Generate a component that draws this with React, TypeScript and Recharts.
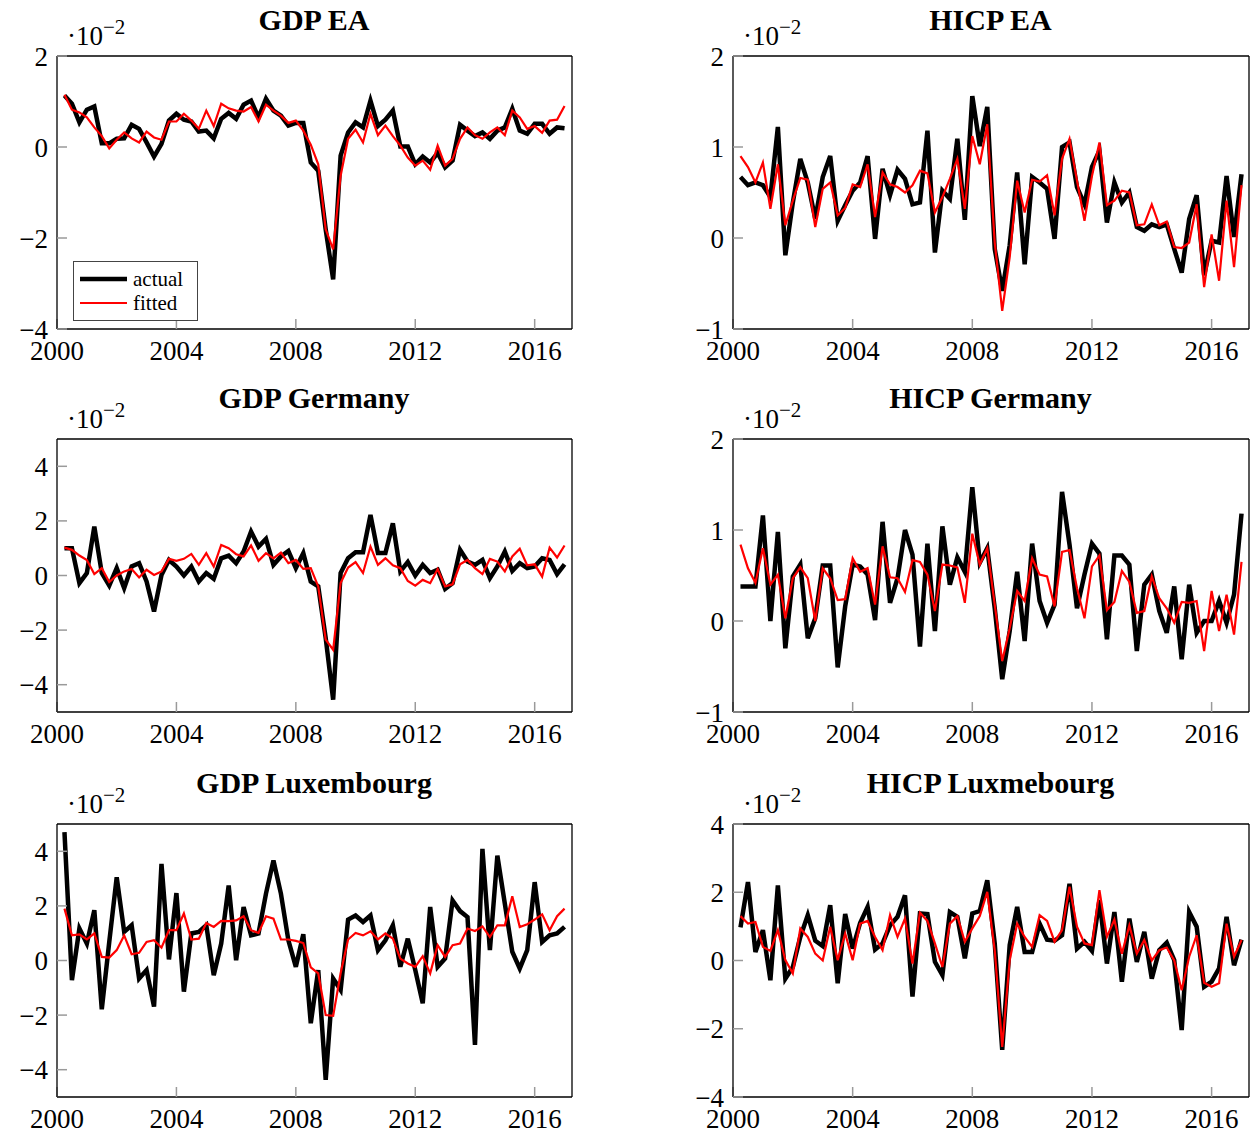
import { LineChart, Line, XAxis, YAxis, Legend } from 'recharts'

const FONT = '"Liberation Serif", "DejaVu Serif", serif'

const YEAR_TICKS = [2000, 2004, 2008, 2012, 2016]

// values in units of 10^-2
const GDP_EA_ACTUAL = [
  1.13, 0.95, 0.54, 0.82, 0.89, 0.08, 0.08, 0.18, 0.19, 0.49, 0.40, 0.10, -0.21, 0.07, 0.58, 0.73, 0.60,
  0.56, 0.34, 0.36, 0.19, 0.62, 0.75, 0.62, 0.93, 1.02, 0.65, 1.06, 0.80, 0.69, 0.47, 0.53, 0.53, -0.34,
  -0.52, -1.81, -2.91, -0.19, 0.32, 0.54, 0.43, 1.02, 0.46, 0.60, 0.80, 0.01, 0.01, -0.38, -0.21, -0.34,
  -0.13, -0.45, -0.30, 0.49, 0.36, 0.24, 0.32, 0.18, 0.36, 0.43, 0.84, 0.36, 0.29, 0.51, 0.51, 0.29, 0.43, 0.41,
]
const GDP_EA_FITTED = [
  1.15, 0.82, 0.76, 0.65, 0.43, 0.24, -0.03, 0.16, 0.32, 0.19, 0.10, 0.34, 0.21, 0.16, 0.56, 0.56, 0.73,
  0.58, 0.40, 0.80, 0.46, 0.95, 0.85, 0.80, 0.78, 0.88, 0.56, 0.93, 0.80, 0.69, 0.53, 0.58, 0.36, 0.05,
  -0.38, -1.81, -2.25, -0.63, 0.18, 0.38, 0.10, 0.73, 0.26, 0.47, 0.24, 0.03, -0.23, -0.41, -0.30, -0.50,
  0.03, -0.41, -0.26, 0.18, 0.43, 0.26, 0.18, 0.32, 0.43, 0.26, 0.80, 0.65, 0.40, 0.46, 0.31, 0.58, 0.60, 0.90,
]
const HICP_EA_ACTUAL = [
  0.67, 0.58, 0.61, 0.58, 0.45, 1.22, -0.19, 0.39, 0.87, 0.61, 0.21, 0.67, 0.90, 0.19, 0.36, 0.52, 0.61,
  0.90, -0.01, 0.76, 0.47, 0.75, 0.65, 0.37, 0.39, 1.18, -0.16, 0.52, 0.43, 1.09, 0.20, 1.56, 1.01, 1.44,
  -0.12, -0.58, -0.08, 0.72, -0.29, 0.67, 0.61, 0.54, -0.01, 1.00, 1.05, 0.56, 0.37, 0.78, 0.96, 0.17,
  0.61, 0.39, 0.50, 0.12, 0.08, 0.15, 0.12, 0.15, -0.12, -0.38, 0.21, 0.47, -0.41, -0.03, -0.05, 0.68, 0.01, 0.70,
]
const HICP_EA_FITTED = [
  0.90, 0.78, 0.61, 0.83, 0.32, 0.81, 0.14, 0.41, 0.66, 0.64, 0.12, 0.54, 0.61, 0.25, 0.33, 0.59, 0.56,
  0.81, 0.23, 0.72, 0.59, 0.56, 0.50, 0.58, 0.74, 0.71, 0.28, 0.45, 0.65, 0.87, 0.32, 1.12, 0.81, 1.25,
  -0.05, -0.80, -0.21, 0.63, 0.28, 0.64, 0.62, 0.69, 0.25, 0.87, 1.09, 0.63, 0.19, 0.68, 1.05, 0.36,
  0.41, 0.52, 0.50, 0.14, 0.15, 0.37, 0.14, 0.18, -0.10, -0.11, -0.05, 0.37, -0.54, 0.04, -0.47, 0.41, -0.32, 0.58,
]
const GDP_DE_ACTUAL = [
  1.0, 1.0, -0.28, 0.09, 1.79, 0.09, -0.37, 0.27, -0.46, 0.33, 0.45, -0.22, -1.32, 0.02, 0.57, 0.33, 0.0,
  0.33, -0.22, 0.09, -0.12, 0.63, 0.73, 0.45, 0.88, 1.61, 1.06, 1.34, 0.39, 0.70, 0.90, 0.27, 0.82, -0.22,
  -0.40, -2.29, -4.55, 0.09, 0.63, 0.85, 0.85, 2.22, 0.82, 0.82, 1.91, 0.15, 0.49, 0.0, 0.39, 0.09,
  0.21, -0.49, -0.28, 0.94, 0.51, 0.39, 0.57, -0.10, 0.33, 0.88, 0.17, 0.45, 0.27, 0.33, 0.63, 0.57, 0.05, 0.41,
]
const GDP_DE_FITTED = [
  1.02, 0.94, 0.73, 0.57, 0.05, 0.27, -0.24, 0.0, 0.15, 0.24, -0.07, 0.21, 0.02, 0.15, 0.61, 0.54, 0.61,
  0.79, 0.39, 0.82, 0.33, 1.12, 1.0, 0.78, 0.70, 1.10, 0.54, 0.82, 0.63, 0.84, 0.45, 0.57, 0.24, 0.27,
  -0.40, -2.35, -2.72, -0.28, 0.29, 0.49, 0.09, 1.06, 0.39, 0.63, 0.37, 0.27, -0.20, -0.37, -0.16, -0.28,
  0.24, -0.40, -0.32, 0.41, 0.57, 0.27, 0.05, 0.61, 0.51, 0.15, 0.70, 0.98, 0.37, 0.41, -0.04, 1.02, 0.66, 1.10,
]
const HICP_DE_ACTUAL = [
  0.38, 0.38, 0.38, 1.16, 0.0, 0.98, -0.30, 0.49, 0.62, -0.19, 0.03, 0.61, 0.61, -0.51, 0.16, 0.62, 0.60,
  0.51, 0.01, 1.09, 0.20, 0.47, 1.0, 0.73, -0.28, 0.85, -0.11, 1.04, 0.40, 0.70, 0.54, 1.47, 0.64, 0.80,
  0.14, -0.64, -0.11, 0.54, -0.22, 0.85, 0.22, -0.02, 0.18, 1.42, 0.84, 0.14, 0.51, 0.85, 0.74, -0.20,
  0.72, 0.72, 0.62, -0.33, 0.40, 0.51, 0.11, -0.13, 0.38, -0.42, 0.40, -0.13, 0.0, 0.0, 0.22, -0.02, 0.29, 1.18,
]
const HICP_DE_FITTED = [
  0.84, 0.58, 0.42, 0.80, 0.40, 0.51, 0.03, 0.47, 0.59, 0.47, 0.0, 0.58, 0.47, 0.23, 0.24, 0.69, 0.54,
  0.58, 0.18, 0.82, 0.48, 0.47, 0.32, 0.67, 0.65, 0.51, 0.11, 0.62, 0.61, 0.59, 0.20, 0.96, 0.62, 0.80,
  0.18, -0.44, -0.08, 0.33, 0.22, 0.69, 0.51, 0.49, 0.16, 0.76, 0.78, 0.36, 0.03, 0.60, 0.72, 0.12,
  0.21, 0.55, 0.43, 0.09, 0.11, 0.49, 0.25, 0.14, -0.02, 0.21, 0.20, 0.22, -0.33, 0.33, -0.11, 0.29, -0.15, 0.65,
]
const GDP_LU_ACTUAL = [
  4.70, -0.72, 1.17, 0.62, 1.84, -1.79, 0.68, 3.05, 1.05, 1.29, -0.66, -0.35, -1.69, 3.54, 0.04, 2.47, -1.14,
  0.99, 1.05, 1.29, -0.54, 0.62, 2.75, 0.01, 1.96, 0.92, 0.99, 2.45, 3.66, 2.45, 0.74, -0.23, 0.96, -2.30,
  -0.35, -4.37, -0.66, -1.08, 1.50, 1.65, 1.41, 1.65, 0.38, 0.74, 1.29, -0.23, 0.80, -0.35, -1.57, 1.96,
  -0.23, 0.07, 2.20, 1.81, 1.59, -3.09, 4.09, 0.38, 3.84, 2.08, 0.32, -0.29, 0.38, 2.87, 0.68, 0.92, 0.99, 1.23,
]
const GDP_LU_FITTED = [
  1.90, 0.92, 0.96, 0.77, 0.99, 0.13, 0.11, 0.38, 0.92, 0.23, 0.28, 0.68, 0.74, 0.47, 1.11, 1.11, 1.72,
  0.77, 0.80, 1.37, 1.23, 1.45, 1.44, 1.47, 1.62, 1.11, 1.01, 1.62, 1.53, 0.77, 0.77, 0.72, 0.64, -0.25,
  -0.47, -2.0, -2.03, -0.47, 0.77, 1.01, 0.92, 1.07, 0.77, 0.99, 0.80, 0.07, -0.11, -0.23, 0.16, -0.47,
  0.56, 0.13, 0.56, 0.62, 1.17, 1.08, 1.25, 0.86, 1.29, 1.29, 2.35, 1.23, 1.33, 1.50, 1.69, 1.11, 1.62, 1.90,
]
const HICP_LU_ACTUAL = [
  0.97, 2.30, 0.25, 0.89, -0.58, 2.20, -0.53, -0.19, 0.69, 1.33, 0.58, 0.42, 1.62, -0.67, 1.36, 0.35, 1.10,
  1.57, 0.32, 0.50, 1.03, 1.28, 1.91, -1.06, 1.38, 1.36, -0.04, -0.43, 1.42, 1.28, 0.06, 1.38, 1.45, 2.35,
  0.50, -2.62, 0.45, 1.57, 0.25, 0.25, 1.08, 0.61, 0.58, 0.74, 2.25, 0.35, 0.55, 0.28, 1.77, -0.09,
  1.42, -0.62, 1.23, -0.04, 0.84, -0.53, 0.30, 0.52, 0.01, -2.04, 1.42, 0.99, -0.77, -0.62, -0.23, 1.28, -0.14, 0.61,
]
const HICP_LU_FITTED = [
  1.30, 1.08, 1.13, 0.40, 0.28, 0.89, 0.01, -0.38, 0.94, 0.69, 0.20, 0.0, 0.99, 0.01, 0.79, 0.01, 1.08,
  1.16, 0.69, 0.30, 1.33, 0.69, 1.23, -0.09, 1.40, 1.16, 0.50, -0.19, 1.08, 1.30, 0.55, 0.94, 1.30, 2.01,
  0.30, -2.53, 0.01, 1.08, 0.69, 0.40, 1.33, 1.16, 0.55, 0.89, 2.16, 0.99, 0.50, 0.45, 2.06, 0.69,
  1.20, 0.20, 1.03, 0.20, 0.60, 0.0, 0.30, 0.38, 0.0, -0.87, 0.11, 0.74, -0.65, -0.77, -0.67, 1.08, 0.11, 0.60,
]

// quarterly dates, 2000Q2 .. 2017Q1
const QUARTERS = GDP_EA_ACTUAL.map((_, i) => 2000.25 + i * 0.25)

const rows = (actual: number[], fitted: number[]) =>
  QUARTERS.map((t, i) => ({ t, actual: actual[i], fitted: fitted[i] }))

const fmt = (v: number) => (v < 0 ? `\u2212${Math.abs(v)}` : `${v}`)

const TICK_LINE = { stroke: '#9a9a9a', strokeWidth: 1.5 }
const FRAME = { stroke: '#000', strokeWidth: 1.3 }
const TICK_TEXT = { fontSize: 27, fill: '#000', fontFamily: FONT }

function LegendBox() {
  const item = (color: string, w: number, label: string) => (
    <div style={{ display: 'flex', alignItems: 'center', height: 24 }}>
      <svg width={47} height={10} style={{ marginRight: 6 }}>
        <line x1={0} y1={5} x2={47} y2={5} stroke={color} strokeWidth={w} />
      </svg>
      <span style={{ fontFamily: FONT, fontSize: 21, lineHeight: '24px' }}>{label}</span>
    </div>
  )
  return (
    <div style={{ border: '1px solid #444', background: '#fff', padding: '5px 11px 5px 6px', width: 106 }}>
      {item('#000', 4.5, 'actual')}
      {item('#ff0000', 2.2, 'fitted')}
    </div>
  )
}

interface PanelProps {
  title: string
  actual: number[]
  fitted: number[]
  domain: [number, number]
  ticks: number[]
  left: number
  top: number
  width: number
  right: number
  legend?: boolean
}

function Panel({ title, actual, fitted, domain, ticks, left, top, width, right, legend }: PanelProps) {
  const plotLeft = 57
  const plotTop = 57
  const plotRight = width - right
  return (
    <div style={{ position: 'absolute', left, top, width, height: 368 }}>
      <div
        style={{
          position: 'absolute', left: 0, width: plotLeft + plotRight, top: plotTop - 52 + (top > 0 ? -5 : 0),
          textAlign: 'center', fontFamily: FONT, fontWeight: 'bold', fontSize: 30, lineHeight: 1,
        }}
      >
        {title}
      </div>
      <div
        style={{
          position: 'absolute', left: plotLeft + 10, top: plotTop - 34, fontFamily: FONT, fontSize: 27, lineHeight: 1,
        }}
      >
        ·10<sup style={{ fontSize: 21, verticalAlign: 'baseline', position: 'relative', top: -11 }}>{'\u22122'}</sup>
      </div>
      <LineChart
        width={width}
        height={368}
        data={rows(actual, fitted)}
        margin={{ top: plotTop - 1, left: plotLeft - 1, right: right - 1, bottom: 38 }}
      >
        <XAxis
          xAxisId="b" dataKey="t" type="number" domain={[2000, 2017.25]} ticks={YEAR_TICKS} interval={0}
          height={1} tickSize={-10} tickMargin={22} tickLine={TICK_LINE} axisLine={FRAME} tick={TICK_TEXT}
        />
        <XAxis
          xAxisId="t" orientation="top" mirror dataKey="t" type="number" domain={[2000, 2017.25]} ticks={YEAR_TICKS}
          interval={0} height={1} tickSize={10} tickLine={TICK_LINE} axisLine={FRAME} tick={false}
        />
        <YAxis
          yAxisId="l" type="number" domain={domain} ticks={ticks} interval={0} width={1} tickSize={-10}
          tickMargin={19} tickLine={TICK_LINE} axisLine={FRAME} tick={TICK_TEXT} tickFormatter={fmt}
        />
        <YAxis
          yAxisId="r" orientation="right" mirror type="number" domain={domain} ticks={ticks} interval={0} width={1}
          tickSize={10} tickLine={TICK_LINE} axisLine={FRAME} tick={false}
        />
        <Line
          xAxisId="b" yAxisId="l" dataKey="actual" name="actual" stroke="#000" strokeWidth={4.5} dot={false}
          isAnimationActive={false}
        />
        <Line
          xAxisId="b" yAxisId="l" dataKey="fitted" name="fitted" stroke="#ff0000" strokeWidth={2.2} dot={false}
          isAnimationActive={false}
        />
        {legend && (
          <Legend
            layout="vertical" align="center" verticalAlign="middle"
            wrapperStyle={{ left: 73, top: 261, width: 'auto' }}
            content={() => <LegendBox />}
          />
        )}
      </LineChart>
    </div>
  )
}

export default function App() {
  return (
    <div style={{ position: 'absolute', left: 0, top: 0, width: 1252, height: 1136, background: '#fff', overflow: 'hidden' }}>
      <Panel title="GDP EA" actual={GDP_EA_ACTUAL} fitted={GDP_EA_FITTED} domain={[-4, 2]} ticks={[-4, -2, 0, 2]}
        left={0} top={0} width={600} right={29} legend />
      <Panel title="HICP EA" actual={HICP_EA_ACTUAL} fitted={HICP_EA_FITTED} domain={[-1, 2]} ticks={[-1, 0, 1, 2]}
        left={676} top={0} width={576} right={4} />
      <Panel title="GDP Germany" actual={GDP_DE_ACTUAL} fitted={GDP_DE_FITTED} domain={[-5, 5]} ticks={[-4, -2, 0, 2, 4]}
        left={0} top={383} width={600} right={29} />
      <Panel title="HICP Germany" actual={HICP_DE_ACTUAL} fitted={HICP_DE_FITTED} domain={[-1, 2]} ticks={[-1, 0, 1, 2]}
        left={676} top={383} width={576} right={4} />
      <Panel title="GDP Luxembourg" actual={GDP_LU_ACTUAL} fitted={GDP_LU_FITTED} domain={[-5, 5]} ticks={[-4, -2, 0, 2, 4]}
        left={0} top={768} width={600} right={29} />
      <Panel title="HICP Luxmebourg" actual={HICP_LU_ACTUAL} fitted={HICP_LU_FITTED} domain={[-4, 4]} ticks={[-4, -2, 0, 2, 4]}
        left={676} top={768} width={576} right={4} />
    </div>
  )
}
